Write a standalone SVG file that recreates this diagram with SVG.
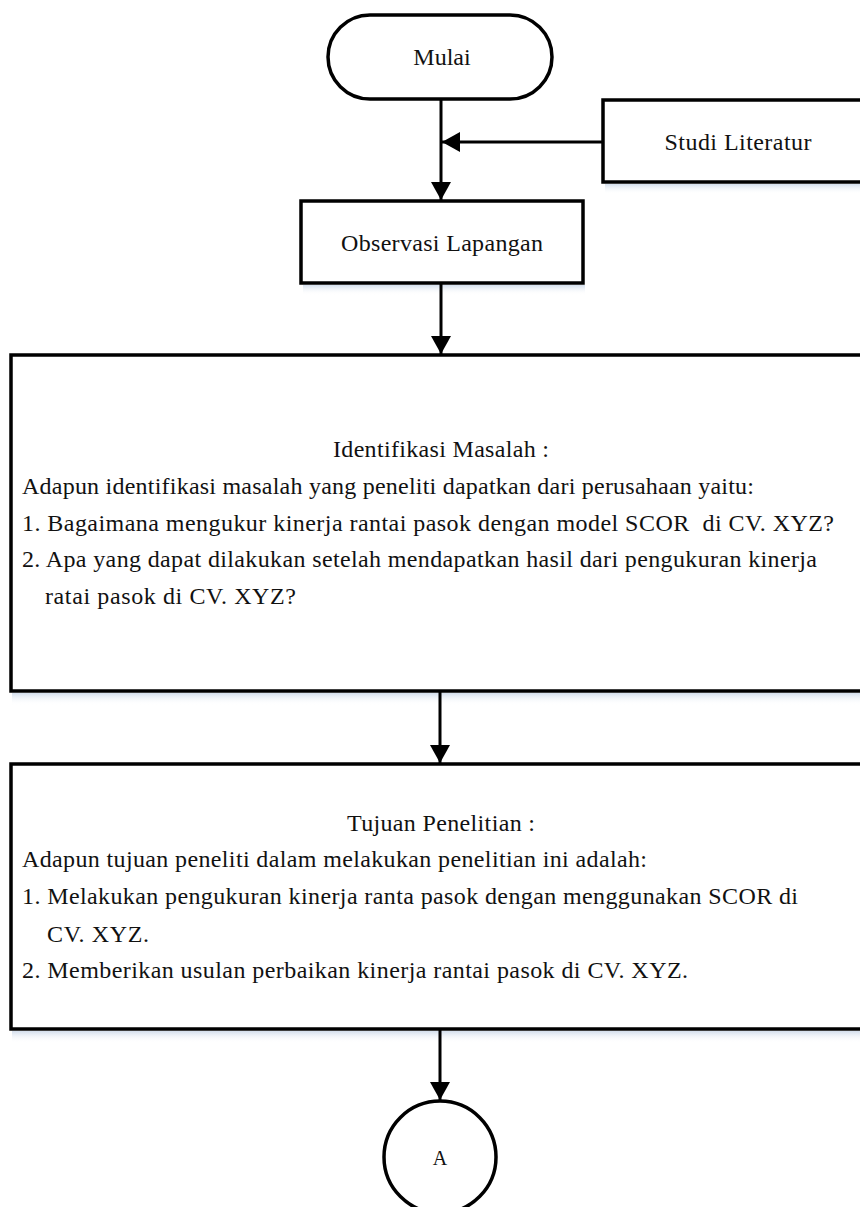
<svg xmlns="http://www.w3.org/2000/svg" width="860" height="1207" viewBox="0 0 860 1207">
<style>
.box{fill:#fff;stroke:#000;stroke-width:3.5}
.ln{fill:none;stroke:#000;stroke-width:3}
.t{font-family:"Liberation Serif","Times New Roman",serif;font-size:24px;fill:#111}
.c{text-anchor:middle}
</style>
<defs>
<linearGradient id="sh" x1="0" y1="0" x2="0" y2="1">
<stop offset="0" stop-color="#d3deec"/>
<stop offset="1" stop-color="#ffffff" stop-opacity="0"/>
</linearGradient>
<marker id="ah" markerUnits="userSpaceOnUse" markerWidth="20" markerHeight="20" viewBox="0 0 18 20" refX="18" refY="10" orient="auto">
<path d="M0,0 L18,10 L0,20 Z" fill="#000"/>
</marker>
</defs>
<rect width="860" height="1207" fill="#fff"/>

<g id="mulai">
<rect class="box" x="328" y="15" width="224" height="84" rx="42" ry="42"/>
<text class="t c" x="442" y="65">Mulai</text>
</g>

<g id="studi-literatur">
<rect x="605" y="184" width="270" height="10" fill="url(#sh)"/>
<rect class="box" x="603" y="100" width="272" height="82"/>
<text class="t c" x="738" y="150" textLength="147">Studi Literatur</text>
</g>

<g id="observasi-lapangan">
<rect x="303" y="285" width="282" height="10" fill="url(#sh)"/>
<rect class="box" x="301" y="201" width="282" height="82"/>
<text class="t c" x="442" y="251" textLength="202">Observasi Lapangan</text>
</g>

<g id="identifikasi-masalah">
<rect x="12" y="693" width="860" height="12" fill="url(#sh)"/>
<rect class="box" x="11" y="355" width="870" height="336"/>
<text class="t" x="333" y="457" textLength="216">Identifikasi Masalah :</text>
<text class="t" x="22" y="494" textLength="732">Adapun identifikasi masalah yang peneliti dapatkan dari perusahaan yaitu:</text>
<text class="t" x="22" y="531" textLength="812" xml:space="preserve">1. Bagaimana mengukur kinerja rantai pasok dengan model SCOR  di CV. XYZ?</text>
<text class="t" x="22" y="567" textLength="795">2. Apa yang dapat dilakukan setelah mendapatkan hasil dari pengukuran kinerja</text>
<text class="t" x="45" y="604" textLength="251">ratai pasok di CV. XYZ?</text>
</g>

<g id="tujuan-penelitian">
<rect x="12" y="1031" width="860" height="12" fill="url(#sh)"/>
<rect class="box" x="11" y="764" width="870" height="265"/>
<text class="t" x="347" y="831" textLength="188">Tujuan Penelitian :</text>
<text class="t" x="22" y="867" textLength="625">Adapun tujuan peneliti dalam melakukan penelitian ini adalah:</text>
<text class="t" x="22" y="904" textLength="776">1. Melakukan pengukuran kinerja ranta pasok dengan menggunakan SCOR di</text>
<text class="t" x="47" y="942" textLength="102">CV. XYZ.</text>
<text class="t" x="22" y="978" textLength="666">2. Memberikan usulan perbaikan kinerja rantai pasok di CV. XYZ.</text>
</g>

<g id="connector-a">
<circle class="box" cx="440" cy="1157" r="56"/>
<text class="t c" x="440" y="1165" style="font-size:20px">A</text>
</g>

<g id="connectors">
<line class="ln" x1="441" y1="99" x2="441" y2="200" marker-end="url(#ah)"/>
<line class="ln" x1="603" y1="142" x2="442" y2="142" marker-end="url(#ah)"/>
<line class="ln" x1="441" y1="283" x2="441" y2="354" marker-end="url(#ah)"/>
<line class="ln" x1="440" y1="691" x2="440" y2="763" marker-end="url(#ah)"/>
<line class="ln" x1="440" y1="1029" x2="440" y2="1100" marker-end="url(#ah)"/>
</g>
</svg>
